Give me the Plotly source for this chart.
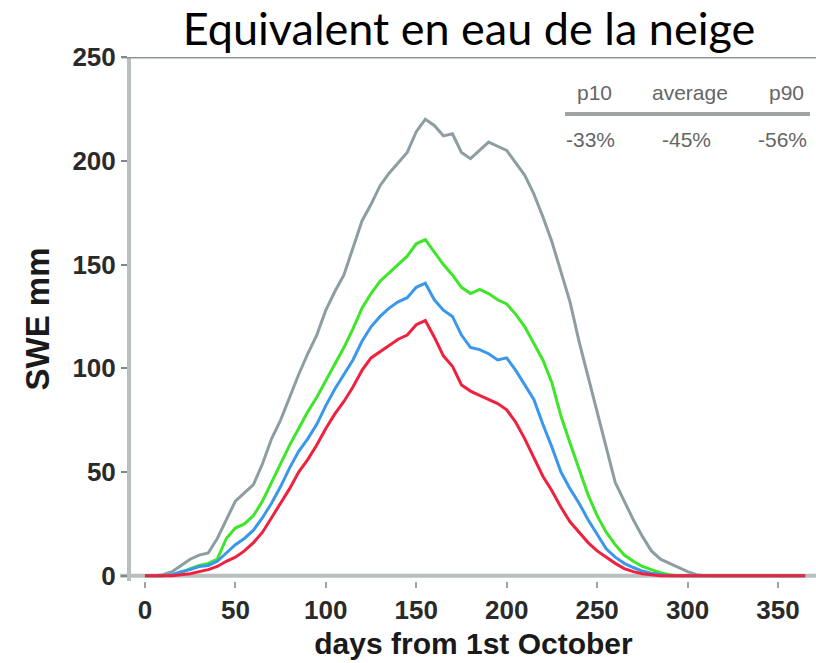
import plotly.graph_objects as go

days = list(range(0, 370, 5))

gray_vals = [0, 0, 0.5, 2, 5, 8, 10, 11, 18, 27, 36, 40, 44, 54, 66, 75, 86, 97, 107, 116,
             128, 137, 145, 158, 171, 179, 188, 194, 199, 204, 214, 220, 217, 212, 213, 204,
             201, 205, 209, 207, 205, 199, 193, 184, 173, 161, 146, 132, 113, 96, 79, 61, 45,
             36, 27, 19, 12, 8, 6, 4, 2, 0.5, 0, 0, 0, 0, 0, 0, 0, 0, 0, 0, 0, 0]
green_vals = [0, 0, 0, 0.5, 1.5, 3.5, 5, 6, 8, 18, 23, 25, 29, 36, 45, 54, 63, 71, 79, 86,
              94, 102, 110, 119, 129, 136, 142, 146, 150, 154, 160, 162, 156, 150, 145, 139,
              136, 138, 136, 133, 131, 126, 120, 112, 104, 93, 77, 64, 51, 39, 29, 21, 15,
              10, 7, 4.5, 3, 1.5, 0.5, 0, 0, 0, 0, 0, 0, 0, 0, 0, 0, 0, 0, 0, 0, 0]
blue_vals = [0, 0, 0, 0.5, 2, 3, 4.5, 5, 7, 11, 15, 18, 22, 28, 35, 43, 52, 60, 66, 73,
             82, 90, 97, 104, 113, 120, 125, 129, 132, 134, 139, 141, 133, 128, 125, 116,
             110, 109, 107, 104, 105, 99, 92, 85, 73, 62, 50, 42, 35, 27, 20, 13, 9,
             6, 4, 2.3, 1.2, 0.5, 0, 0, 0, 0, 0, 0, 0, 0, 0, 0, 0, 0, 0, 0, 0, 0]
red_vals = [0, 0, 0, 0, 0.5, 1, 2, 3, 4.5, 7, 9, 12, 16, 21, 28, 35, 42, 50, 56, 63,
            71, 78, 84, 91, 99, 105, 108, 111, 114, 116, 121, 123, 115, 106, 101, 92,
            89, 87, 85, 83, 80, 74, 66, 57, 48, 41, 33, 26, 21, 16, 12, 9, 6,
            3.5, 2, 1, 0.5, 0, 0, 0, 0, 0, 0, 0, 0, 0, 0, 0, 0, 0, 0, 0, 0, 0]

x_ticks = [0, 50, 100, 150, 200, 250, 300, 350]
y_ticks = [0, 50, 100, 150, 200, 250]

table_headers = ["p10", "average", "p90"]
table_values = ["-33%", "-45%", "-56%"]
table_x = [594, 690, 786]

series = [
    (gray_vals, "#8c9ea2"),
    (green_vals, "#3ee62a"),
    (blue_vals, "#3a97ec"),
    (red_vals, "#f0213f"),
]

fig = go.Figure()
for vals, col in series:
    fig.add_trace(go.Scatter(x=days, y=vals, mode="lines",
                             line=dict(color=col, width=3), showlegend=False,
                             hoverinfo="skip"))

W, H = 816, 663
ml, mr, mt, mb = 131, 0, 57, 82
PW, PH = W - ml - mr, H - mt - mb

fig.update_layout(
    width=W, height=H,
    margin=dict(l=ml, r=mr, t=mt, b=mb),
    paper_bgcolor="white", plot_bgcolor="white",
    font=dict(family="Liberation Sans, Arial, sans-serif", color="#222"),
    title=dict(text="Equivalent en eau de la neige", x=469 / W, xanchor="center",
               y=1 - 29 / H, yanchor="middle",
               font=dict(family="Lato, Open Sans, sans-serif", size=45, color="#000")),
    xaxis=dict(range=[-7.7, 371], tickvals=x_ticks, showgrid=False, zeroline=False,
               showline=False, ticks="outside", ticklen=6, tickwidth=2, tickcolor="#9aa4a4",
               tickfont=dict(size=26, color="#2a2a2a", weight="bold"),
               title=dict(text="<b>days from 1st October</b>", font=dict(size=30, color="#1a1a1a"),
                          standoff=8)),
    yaxis=dict(range=[-2.5, 250], tickvals=y_ticks, showgrid=False, zeroline=False,
               showline=True, linecolor="#b9bfbf", linewidth=4,
               ticks="outside", ticklen=6, tickwidth=2, tickcolor="#7d8888",
               tickfont=dict(size=26, color="#2a2a2a", weight="bold"),
               title=dict(text="<b>SWE mm</b>", font=dict(size=33, color="#1a1a1a"), standoff=14)),
)

# bottom axis line at zero and top frame line
fig.add_shape(type="line", xref="paper", yref="y", x0=-0.016, x1=1, y0=0, y1=0,
              line=dict(color="#b9bfbf", width=4), layer="below")
fig.add_shape(type="line", xref="paper", yref="y", x0=-0.013, x1=1, y0=250, y1=250,
              line=dict(color="#8a9696", width=3), layer="above")

# small table
for hx, htxt, vtxt in zip(table_x, table_headers, table_values):
    fig.add_annotation(x=(hx - ml) / PW, xref="paper", y=1 - (92 - mt) / PH,
                       yref="paper", text=htxt, showarrow=False, xanchor="center", yanchor="middle",
                       font=dict(size=21, color="#666"))
    fig.add_annotation(x=(hx - 4 - ml) / PW, xref="paper", y=1 - (139 - mt) / PH,
                       yref="paper", text=vtxt, showarrow=False, xanchor="center", yanchor="middle",
                       font=dict(size=21, color="#666"))
fig.add_shape(type="line", xref="paper", yref="paper",
              x0=(565 - ml) / PW, x1=(810 - ml) / PW,
              y0=1 - (114 - mt) / PH, y1=1 - (114 - mt) / PH,
              line=dict(color="#a0a4a4", width=4))

fig.write_html("out.html")
